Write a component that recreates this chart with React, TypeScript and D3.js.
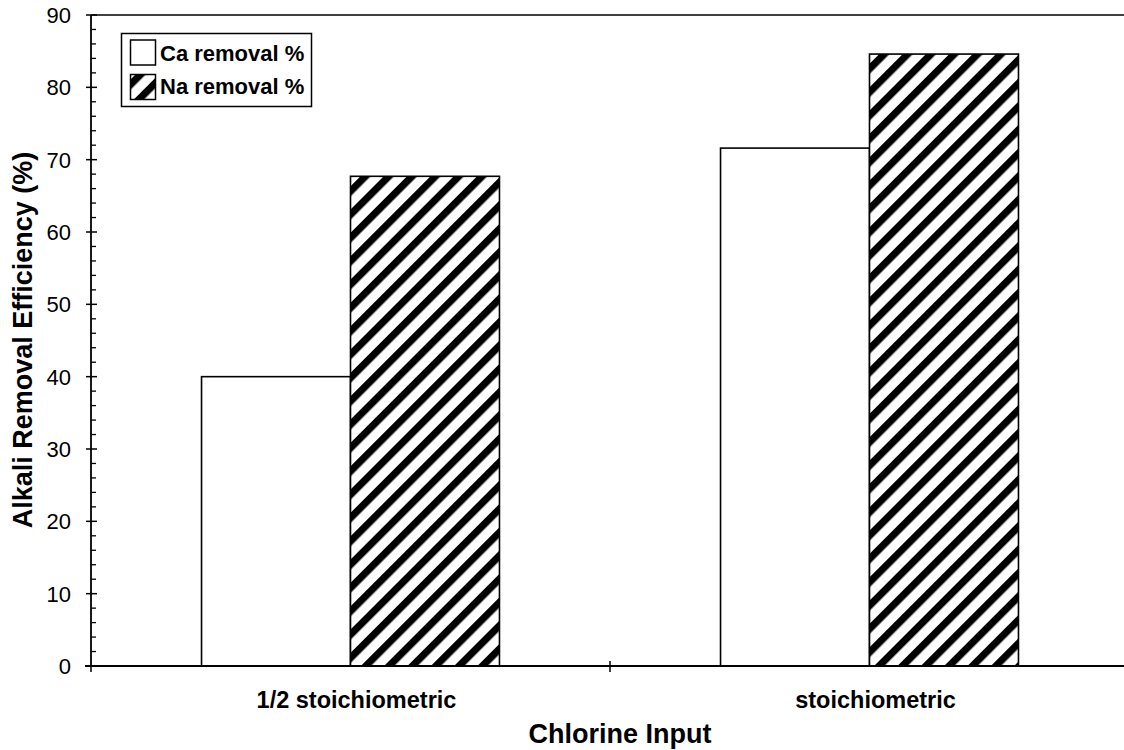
import React from "react";
import * as d3 from "d3";

// Chlorine input levels and removal efficiencies (%)
const categories = ["1/2 stoichiometric", "stoichiometric"];
const seriesNames = ["Ca removal %", "Na removal %"];
const caRemoval = [40, 71.6];
const naRemoval = [67.7, 84.6];
const yTicks = [0, 10, 20, 30, 40, 50, 60, 70, 80, 90];

const W = 1124;
const H = 750;
const left = 91;
const top = 15;
const bottom = 666;
const right = 1129;
const FONT = "'Liberation Sans', Arial, Helvetica, sans-serif";

export default function App() {
  const x0 = d3.scaleBand<string>().domain(categories).range([left, right]).paddingInner(0).paddingOuter(0);
  const x1 = d3
    .scaleBand<string>()
    .domain(seriesNames)
    .range([0, x0.bandwidth()])
    .paddingInner(0)
    .paddingOuter(0.742);
  const y = d3.scaleLinear().domain([0, 90]).range([bottom, top]);

  const values = [caRemoval, naRemoval];
  const minorTicks = d3.range(0, 91, 2).filter((v) => v % 10 !== 0);

  return (
    <svg
      width={W}
      height={H}
      viewBox={`0 0 ${W} ${H}`}
      style={{ position: "absolute", left: 0, top: 0, background: "#fff" }}
    >
      <defs>
        <pattern
          id="hatch"
          patternUnits="userSpaceOnUse"
          width={16.5}
          height={16.5}
          patternTransform="rotate(45)"
        >
          <rect width={16.5} height={16.5} fill="#fff" />
          <rect width={7.2} height={16.5} fill="#000" />
        </pattern>
      </defs>
      <rect width={W} height={H} fill="#fff" />

      {/* bars */}
      {categories.map((cat, ci) =>
        seriesNames.map((s, si) => {
          const v = values[si][ci];
          const bx = (x0(cat) as number) + (x1(s) as number);
          return (
            <rect
              key={cat + s}
              x={bx}
              y={y(v)}
              width={x1.bandwidth()}
              height={bottom - y(v)}
              fill={si === 0 ? "#fff" : "url(#hatch)"}
              stroke="#000"
              strokeWidth={1.6}
            />
          );
        })
      )}

      {/* frame top */}
      <line x1={left} x2={W} y1={y(90)} y2={y(90)} stroke="#000" strokeWidth={1.6} />

      {/* y axis */}
      <line x1={left} x2={left} y1={y(90)} y2={bottom} stroke="#000" strokeWidth={1.8} />
      {yTicks.map((t) => (
        <g key={"yt" + t}>
          <line x1={left - 5} x2={left + 6} y1={y(t)} y2={y(t)} stroke="#000" strokeWidth={1.5} />
          <text
            x={71}
            y={y(t)}
            dy="0.36em"
            textAnchor="end"
            fontFamily={FONT}
            fontSize={22}
            fill="#000"
          >
            {t}
          </text>
        </g>
      ))}
      {minorTicks.map((t) => (
        <line key={"ym" + t} x1={left} x2={left + 5} y1={y(t)} y2={y(t)} stroke="#000" strokeWidth={1.3} />
      ))}

      {/* x axis */}
      <line x1={left - 6} x2={W} y1={bottom} y2={bottom} stroke="#000" strokeWidth={1.8} />
      <line x1={left} x2={left} y1={bottom} y2={bottom + 6} stroke="#000" strokeWidth={1.5} />
      {categories.slice(1).map((c) => (
        <line
          key={"xt" + c}
          x1={x0(c) as number}
          x2={x0(c) as number}
          y1={bottom - 5}
          y2={bottom + 6}
          stroke="#000"
          strokeWidth={1.5}
        />
      ))}
      {categories.map((c) => (
        <text
          key={"xl" + c}
          x={(x0(c) as number) + x0.bandwidth() / 2 + 6}
          y={708}
          textAnchor="middle"
          fontFamily={FONT}
          fontWeight="bold"
          fontSize={23.5}
          fill="#000"
        >
          {c}
        </text>
      ))}

      {/* axis titles */}
      <text
        x={620}
        y={743}
        textAnchor="middle"
        fontFamily={FONT}
        fontWeight="bold"
        fontSize={27}
        fill="#000"
      >
        Chlorine Input
      </text>
      <text
        transform={`translate(31.5, 340) rotate(-90)`}
        textAnchor="middle"
        fontFamily={FONT}
        fontWeight="bold"
        fontSize={27}
        fill="#000"
      >
        Alkali Removal Efficiency (%)
      </text>

      {/* legend */}
      <g>
        <rect x={121.5} y={33.5} width={190} height={73} fill="#fff" stroke="#000" strokeWidth={1.5} />
        {seriesNames.map((s, i) => (
          <g key={"lg" + s}>
            <rect
              x={130.5}
              y={40 + i * 34.5}
              width={25}
              height={25}
              fill={i === 0 ? "#fff" : "url(#hatch)"}
              stroke="#000"
              strokeWidth={1.5}
            />
            <text
              x={160}
              y={61 + i * 32.5}
              fontFamily={FONT}
              fontWeight="bold"
              fontSize={22}
              fill="#000"
            >
              {s}
            </text>
          </g>
        ))}
      </g>
    </svg>
  );
}
